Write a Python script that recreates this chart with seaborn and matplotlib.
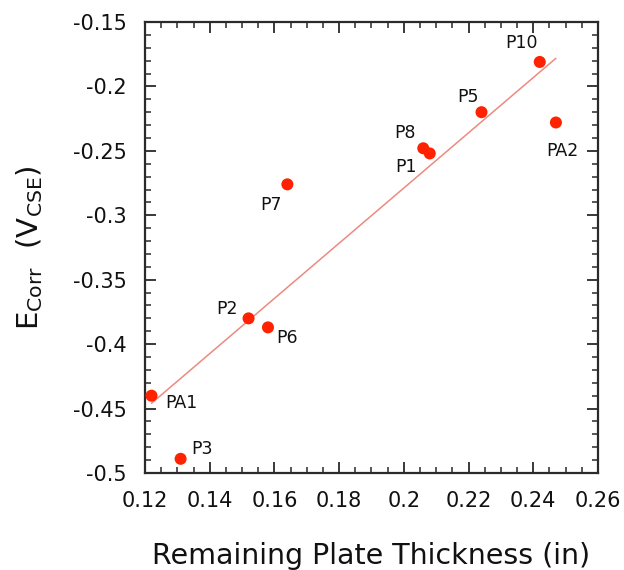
import matplotlib
matplotlib.use("Agg")
import matplotlib.pyplot as plt
from matplotlib.ticker import MultipleLocator, FuncFormatter
import seaborn as sns
import pandas as pd

# Plate labels, remaining thickness (in) and corrosion potential (V vs CSE)
plates = ["P1", "P2", "P3", "P5", "P6", "P7", "P8", "P10", "PA1", "PA2"]
thickness = [0.208, 0.152, 0.131, 0.224, 0.158, 0.164, 0.206, 0.242, 0.122, 0.247]
e_corr = [-0.252, -0.380, -0.489, -0.220, -0.387, -0.276, -0.248, -0.181, -0.440, -0.228]

# x ticks and y ticks
x_ticks = [0.12, 0.14, 0.16, 0.18, 0.20, 0.22, 0.24, 0.26]
y_ticks = [-0.5, -0.45, -0.4, -0.35, -0.3, -0.25, -0.2, -0.15]

df = pd.DataFrame({"plate": plates, "thickness": thickness, "e_corr": e_corr})

sns.set_theme(style="white")
plt.rcParams["font.family"] = ["DejaVu Sans"]

fig = plt.figure(figsize=(6.24, 5.70), dpi=100)
ax = fig.add_axes([0.2324, 0.1702, 0.7259, 0.7912])

# least-squares trend line
sns.regplot(data=df, x="thickness", y="e_corr", ax=ax, ci=None, scatter=False,
            line_kws={"color": "#ec8a80", "lw": 1.1, "zorder": 2})
# measured points
sns.scatterplot(data=df, x="thickness", y="e_corr", ax=ax, color="#ff2200",
                s=75, edgecolor="none", zorder=3, legend=False)

# label placement: (left edge dx, vertical centre dy) in pixels from each point
label_offsets = {
    "P1": (-34, -14), "P2": (-32, 9), "P3": (11, 10), "P5": (-24, 15),
    "P6": (8, -11), "P7": (-27, -21), "P8": (-29, 15), "P10": (-34, 19),
    "PA1": (14, -7), "PA2": (-10, -28),
}
for name, x, y in zip(plates, thickness, e_corr):
    dx, dy = label_offsets[name]
    ax.annotate(name, (x, y), xytext=(dx, dy), textcoords="offset pixels",
                ha="left", va="center", fontsize=12.5, color="#111111")

ax.set_xlim(0.12, 0.26)
ax.set_ylim(-0.5, -0.15)
ax.set_xticks(x_ticks)
ax.set_yticks(y_ticks)
ax.xaxis.set_minor_locator(MultipleLocator(0.005))
ax.yaxis.set_minor_locator(MultipleLocator(0.01))
fmt = FuncFormatter(lambda v, p: f"{v:g}")
ax.xaxis.set_major_formatter(fmt)
ax.yaxis.set_major_formatter(fmt)

for s in ax.spines.values():
    s.set_visible(True)
    s.set_color("#2a2a2a")
    s.set_linewidth(1.6)

ax.tick_params(which="both", direction="in", top=True, right=True,
               bottom=True, left=True, color="#2a2a2a")
ax.tick_params(which="major", length=8, width=1.3, labelsize=15, pad=13,
               labelcolor="#111111")
ax.tick_params(which="minor", length=4, width=1.1)

ax.set_xlabel("Remaining Plate Thickness (in)", fontsize=20.5, labelpad=22,
              color="#111111")
ax.set_ylabel(r"E$_{\mathregular{Corr}}$  (V$_{\mathregular{CSE}}$)", fontsize=21,
              labelpad=20, color="#111111")

fig.savefig("out.png", dpi=100, facecolor="white")
